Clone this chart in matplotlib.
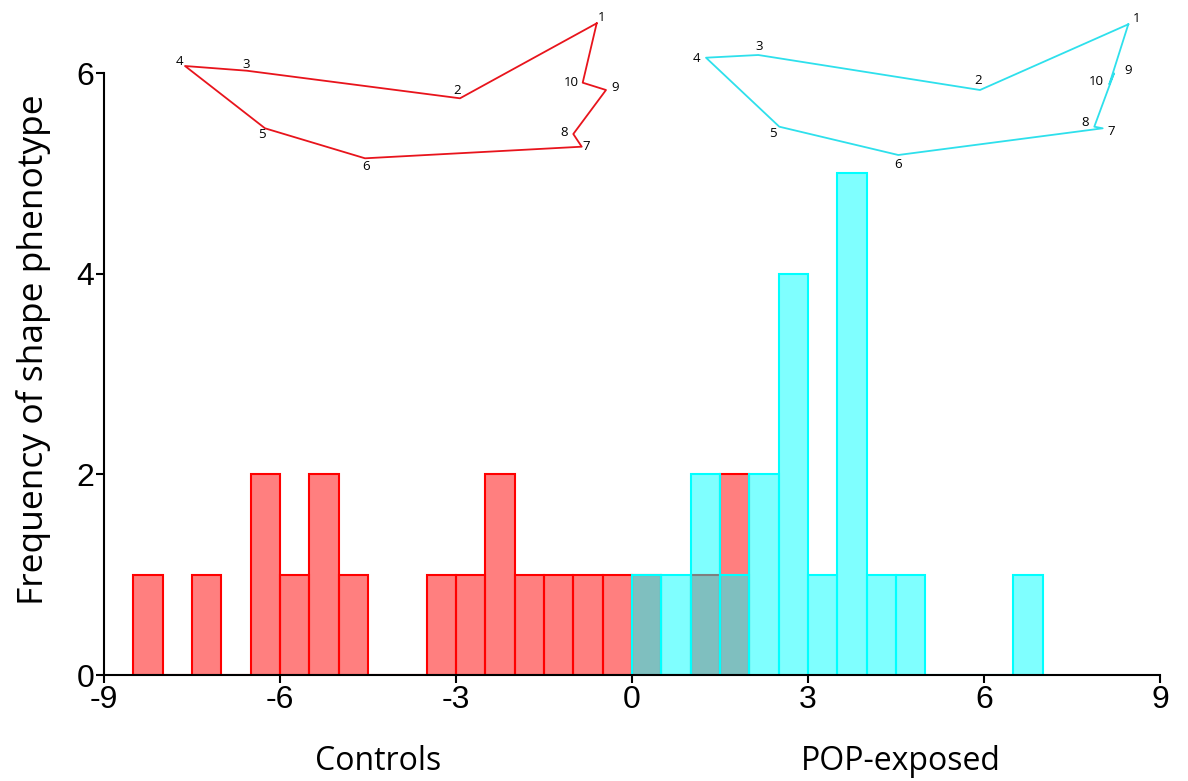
import matplotlib
matplotlib.use('Agg')
import matplotlib.pyplot as plt
import numpy as np

# Histogram data (bins of 0.5, left edges)
ctrl_left = [-8.5, -8.0, -7.5, -7.0, -6.5, -6.0, -5.5, -5.0, -4.5, -4.0, -3.5, -3.0, -2.5,
             -2.0, -1.5, -1.0, -0.5, 0.0, 0.5, 1.0, 1.5]
ctrl_counts = [1, 0, 1, 0, 2, 1, 2, 1, 0, 0, 1, 1, 2, 1, 1, 1, 1, 1, 0, 1, 2]
pop_left = [0.0, 0.5, 1.0, 1.5, 2.0, 2.5, 3.0, 3.5, 4.0, 4.5, 5.0, 5.5, 6.0, 6.5]
pop_counts = [1, 1, 2, 1, 2, 4, 1, 5, 1, 1, 0, 0, 0, 1]
bin_width = 0.5

xticks = [-9, -6, -3, 0, 3, 6, 9]
yticks = [0, 2, 4, 6]

# Landmark shapes (image frame: x right, y down), landmarks 1..10
ctrl_shape_x = [596.7, 460.0, 246.7, 185.0, 265.0, 365.0, 581.7, 573.3, 606.0, 582.7]
ctrl_shape_y = [23.3, 98.3, 70.7, 66.0, 128.3, 158.3, 146.7, 134.0, 90.0, 82.7]
ctrl_lab_x = [601.7, 456.7, 246.0, 179.3, 262.3, 366.0, 586.7, 564.0, 614.7, 571.7]
ctrl_lab_y = [17.3, 90.0, 65.0, 61.7, 135.0, 166.0, 146.7, 132.7, 87.7, 82.7]

pop_shape_x = [1128.3, 980.0, 758.3, 706.0, 779.3, 898.3, 1102.7, 1094.3, 1114.0, 1109.3]
pop_shape_y = [24.3, 90.0, 55.0, 57.7, 126.7, 155.0, 128.3, 126.7, 73.3, 84.3]
pop_lab_x = [1136.7, 977.7, 759.3, 696.7, 773.3, 898.3, 1111.7, 1085.0, 1128.3, 1096.7]
pop_lab_y = [18.0, 81.0, 46.7, 58.3, 133.3, 164.3, 131.7, 122.7, 70.0, 81.7]

fig = plt.figure(figsize=(11.88, 7.81), dpi=100)
ax = fig.add_axes([0.0875, 0.1357, 0.889, 0.7708])

ax.bar(ctrl_left, ctrl_counts, width=bin_width, align='edge',
       facecolor=(1, 0, 0, 0.5), edgecolor='red', linewidth=1.5)
ax.bar(pop_left, pop_counts, width=bin_width, align='edge',
       facecolor=(0, 1, 1, 0.5), edgecolor='cyan', linewidth=1.5)

ax.set_xlim(-9, 9)
ax.set_ylim(0, 6)
ax.set_xticks(xticks)
ax.set_yticks(yticks)
ax.set_xticklabels([str(t) for t in xticks], fontfamily='Liberation Sans', fontsize=23)
ax.set_yticklabels([str(t) for t in yticks], fontfamily='Liberation Sans', fontsize=23)
ax.tick_params(direction='out', length=6, width=1.5, pad=1)
for s in ['top', 'right']:
    ax.spines[s].set_visible(False)
for s in ['left', 'bottom']:
    ax.spines[s].set_linewidth(1.5)

ax.set_ylabel('Frequency of shape phenotype', fontfamily='Open Sans', fontsize=25.5)
ax.yaxis.set_label_coords(-0.05, 0.54)

fig.text(0.3186, 0.014, 'Controls', fontfamily='Open Sans', fontsize=23, ha='center')
fig.text(0.7586, 0.014, 'POP-exposed', fontfamily='Open Sans', fontsize=23, ha='center')

# overlay for landmark outlines
ov = fig.add_axes([0, 0, 1, 1])
ov.set_xlim(0, 1188)
ov.set_ylim(781, 0)
ov.axis('off')
ov.patch.set_alpha(0)

for sx, sy, lx, ly, col in [(ctrl_shape_x, ctrl_shape_y, ctrl_lab_x, ctrl_lab_y, '#e8141c'),
                            (pop_shape_x, pop_shape_y, pop_lab_x, pop_lab_y, '#2ee0ec')]:
    ov.plot(sx + sx[:1], sy + sy[:1], color=col, linewidth=1.3)
    for i in range(len(sx)):
        ov.text(lx[i], ly[i], str(i + 1), fontfamily='Open Sans', fontsize=9.5,
                ha='center', va='center', color='black')

fig.savefig('out.png', dpi=100)
